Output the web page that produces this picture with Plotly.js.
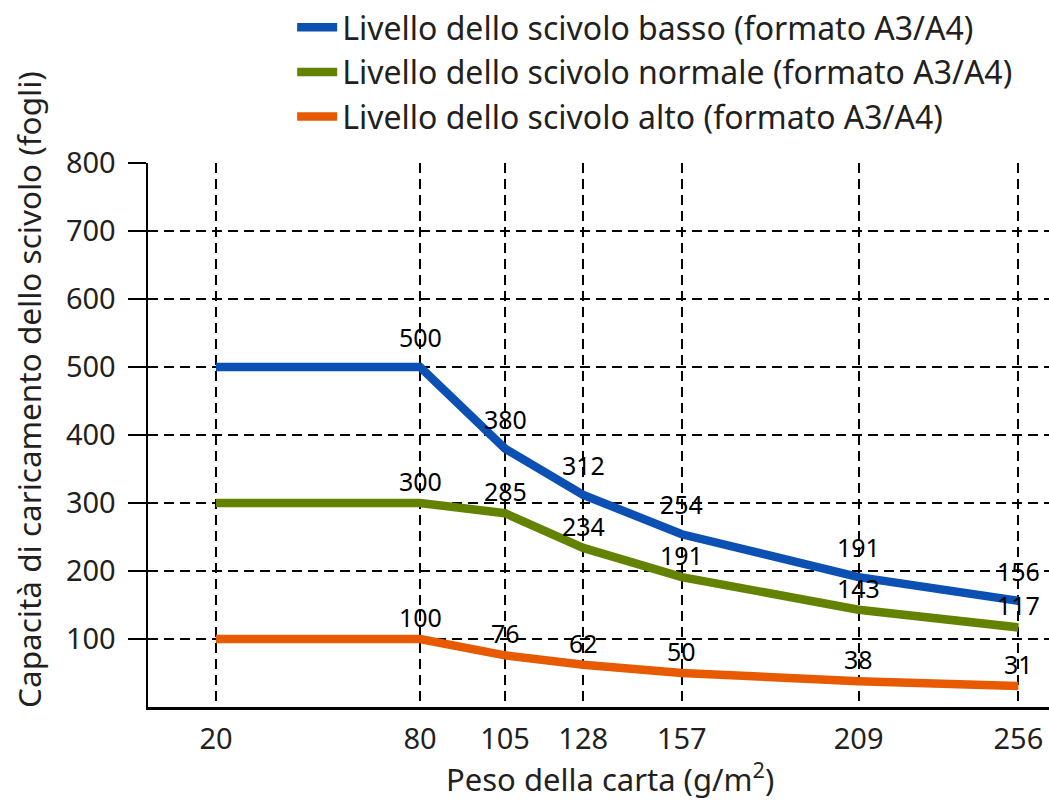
<!DOCTYPE html>
<html>
<head>
<meta charset="utf-8">
<script src="https://cdn.plot.ly/plotly-3.0.1.min.js"></script>
<style>html,body{margin:0;padding:0;background:#fff;}#chart{width:1049px;height:802px;}</style>
</head>
<body>
<div id="chart"></div>
<script>
// Paper weight (g/m2)
const paperWeights = [20, 80, 105, 128, 157, 209, 256];
const tickLabels = ['20', '80', '105', '128', '157', '209', '256'];
const yTicks = [100, 200, 300, 400, 500, 600, 700, 800];

const seriesNames = [
  'Livello dello scivolo basso (formato A3/A4)',
  'Livello dello scivolo normale (formato A3/A4)',
  'Livello dello scivolo alto (formato A3/A4)'
];
const lowLevel = [500, 500, 380, 312, 254, 191, 156];
const normalLevel = [300, 300, 285, 234, 191, 143, 117];
const highLevel = [100, 100, 76, 62, 50, 38, 31];

const colors = ['#0b50b2', '#628200', '#e85a00'];
const labelShift = [30, 22, 22];
const textColor = '#231f20';
const font = 'Noto Sans, Open Sans, sans-serif';

const allSeries = [lowLevel, normalLevel, highLevel];
const traces = allSeries.map((vals, i) => ({
  type: 'scatter',
  mode: 'lines',
  x: paperWeights,
  y: vals,
  name: seriesNames[i],
  line: {color: colors[i], width: 8.5, shape: 'linear'},
  cliponaxis: false,
  hoverinfo: 'x+y'
}));

const valueLabels = [];
allSeries.forEach((vals, i) => {
  vals.forEach((v, j) => {
    if (j === 0) return;
    valueLabels.push({
      x: paperWeights[j], y: v, xref: 'x', yref: 'y',
      text: String(v), showarrow: false,
      xanchor: 'center', yanchor: 'middle',
      yshift: labelShift[i],
      font: {family: font, size: 25, color: '#000'}
    });
  });
});

const layout = {
  width: 1049,
  height: 802,
  margin: {l: 148, r: 0, t: 160, b: 95},
  paper_bgcolor: '#fff',
  plot_bgcolor: '#fff',
  font: {family: font, color: textColor},
  showlegend: true,
  legend: {
    x: 0.16, y: 1.3, xanchor: 'left', yanchor: 'top',
    font: {family: font, size: 32, color: textColor},
    tracegroupgap: 0,
    itemwidth: 40,
    bgcolor: 'rgba(0,0,0,0)'
  },
  xaxis: {
    range: [0, 265],
    tickmode: 'array',
    tickvals: paperWeights,
    ticktext: tickLabels,
    ticks: '',
    tickfont: {family: font, size: 29, color: textColor},
    ticklabelstandoff: 5,
    showgrid: true,
    gridcolor: '#000',
    gridwidth: 2,
    griddash: '10px,6px',
    showline: true,
    linecolor: '#000',
    linewidth: 2.5,
    zeroline: false,
    fixedrange: true
  },
  yaxis: {
    range: [0, 800],
    tickmode: 'array',
    tickvals: yTicks,
    ticks: 'outside',
    ticklen: 18,
    tickwidth: 2.5,
    tickcolor: '#000',
    tickfont: {family: font, size: 29, color: textColor},
    ticklabelstandoff: 6,
    showgrid: true,
    gridcolor: '#000',
    gridwidth: 2,
    griddash: '10px,6px',
    showline: true,
    linecolor: '#000',
    linewidth: 2.5,
    zeroline: false,
    fixedrange: true
  },
  annotations: [
    {
      text: 'Capacità di caricamento dello scivolo (fogli)',
      xref: 'paper', yref: 'paper',
      x: -0.132, y: 0.583,
      xanchor: 'center', yanchor: 'middle',
      textangle: -90, showarrow: false,
      font: {family: font, size: 31.5, color: textColor}
    },
    {
      text: 'Peso della carta (g/m<sup>2</sup>)',
      xref: 'paper', yref: 'paper',
      x: 0.513, y: -0.13,
      xanchor: 'center', yanchor: 'middle',
      showarrow: false,
      font: {family: font, size: 31, color: textColor}
    }
  ].concat(valueLabels)
};

Plotly.newPlot('chart', traces, layout, {displayModeBar: false, staticPlot: true});
</script>
</body>
</html>
